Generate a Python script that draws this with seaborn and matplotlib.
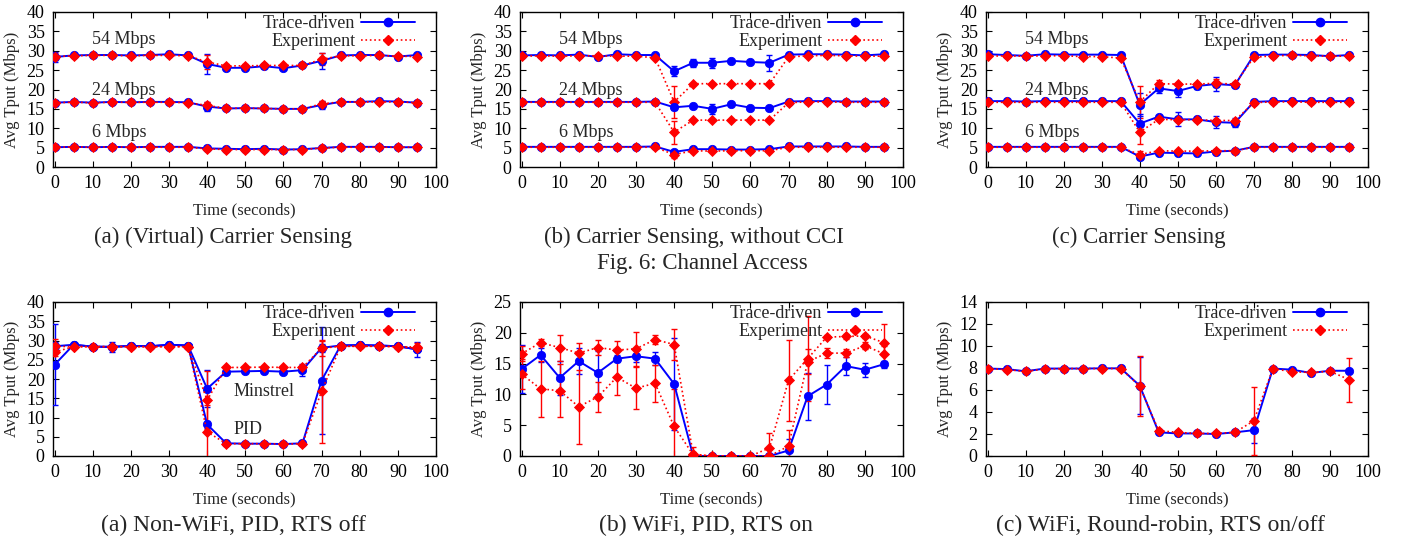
import matplotlib
matplotlib.use("Agg")
import matplotlib.pyplot as plt
from matplotlib.lines import Line2D
import seaborn as sns

t = [0, 5, 10, 15, 20, 25, 30, 35, 40, 45, 50, 55, 60, 65, 70, 75, 80, 85, 90, 95]

# Fig. 6(a) (Virtual) Carrier Sensing
vcs_trace_54 = [28.4, 28.8, 28.9, 28.9, 28.8, 28.9, 29.1, 28.8, 26.6, 25.6, 25.6, 26.0, 25.5, 26.2, 27.4, 28.8, 28.9, 28.9, 28.5, 28.9]
vcs_trace_54_err = [1.3, 0, 0, 0, 0, 0, 0, 0, 2.5, 0.5, 0, 0.4, 0, 0, 2.0, 0, 0, 0, 0, 0]
vcs_exp_54 = [28.5, 28.7, 28.8, 28.8, 28.7, 28.8, 28.8, 28.7, 27.1, 26.1, 26.1, 26.2, 26.2, 26.2, 27.8, 28.7, 28.7, 28.8, 28.6, 28.5]
vcs_exp_54_err = [0.8, 0, 0, 0, 0, 0, 0, 0, 1.8, 0.5, 0.4, 0.4, 0.4, 0, 1.5, 0, 0, 0, 0, 0]
vcs_trace_24 = [16.6, 16.8, 16.6, 16.8, 16.7, 16.8, 16.8, 16.7, 15.6, 15.1, 15.2, 15.1, 15.0, 15.0, 16.0, 16.8, 16.8, 17.0, 16.9, 16.6]
vcs_trace_24_err = [0.8, 0, 0, 0, 0, 0, 0, 0, 1.2, 0, 0, 0, 0, 0, 1.0, 0, 0, 0, 0, 0]
vcs_exp_24 = [16.6, 16.7, 16.6, 16.7, 16.7, 16.7, 16.7, 16.6, 15.9, 15.1, 15.2, 15.1, 15.0, 15.0, 16.3, 16.8, 16.8, 16.8, 16.8, 16.6]
vcs_exp_24_err = [0.5, 0, 0, 0, 0, 0, 0, 0, 0.9, 0, 0, 0, 0, 0, 0.8, 0, 0, 0, 0, 0]
vcs_trace_6 = [5.1, 5.2, 5.1, 5.2, 5.1, 5.2, 5.2, 5.2, 4.8, 4.7, 4.6, 4.7, 4.5, 4.6, 4.9, 5.2, 5.2, 5.2, 5.1, 5.1]
vcs_exp_6 = [5.1, 5.2, 5.1, 5.2, 5.1, 5.1, 5.1, 5.1, 4.7, 4.5, 4.5, 4.5, 4.5, 4.5, 4.9, 5.1, 5.1, 5.1, 5.1, 5.1]
zero_err = [0] * 20

# Fig. 6(b) Carrier Sensing, without CCI
nocci_trace_54 = [28.8, 28.9, 28.8, 29.0, 28.4, 29.1, 28.9, 28.9, 24.7, 26.9, 26.9, 27.4, 27.1, 26.9, 29.0, 29.1, 29.1, 29.0, 28.8, 29.1]
nocci_trace_54_err = [0, 0, 0, 0, 0, 0, 0, 0, 1.3, 1.0, 1.3, 0, 0, 2.0, 0, 0, 0, 0, 0, 0]
nocci_exp_54 = [28.6, 28.7, 28.6, 28.7, 28.7, 28.6, 28.6, 28.2, 16.8, 21.5, 21.5, 21.5, 21.5, 21.5, 28.4, 28.7, 28.8, 28.7, 28.6, 28.6]
nocci_exp_54_err = [0, 0, 0, 0, 0, 0, 0, 0, 4.2, 0, 0, 0, 0, 0, 0, 0, 0, 0, 0, 0]
nocci_trace_24 = [16.8, 16.8, 16.8, 16.8, 16.8, 16.8, 16.8, 16.9, 15.4, 15.8, 15.0, 16.2, 15.3, 15.2, 16.9, 17.0, 17.0, 16.9, 16.9, 16.9]
nocci_trace_24_err = [0, 0, 0, 0, 0, 0, 0, 0, 0.6, 0, 1.2, 0, 0, 0, 0, 0, 0, 0, 0, 0]
nocci_exp_24 = [16.7, 16.7, 16.7, 16.7, 16.7, 16.7, 16.7, 16.7, 9.0, 12.1, 12.1, 12.1, 12.1, 12.1, 16.6, 16.8, 16.8, 16.7, 16.7, 16.7]
nocci_exp_24_err = [0, 0, 0, 0, 0, 0, 0, 0, 3.0, 0, 0, 0, 0, 0, 0, 0, 0, 0, 0, 0]
nocci_trace_6 = [5.2, 5.2, 5.2, 5.2, 5.2, 5.2, 5.2, 5.3, 3.9, 4.6, 4.6, 4.5, 4.5, 4.6, 5.3, 5.3, 5.3, 5.3, 5.2, 5.2]
nocci_exp_6 = [5.1, 5.1, 5.1, 5.1, 5.1, 5.1, 5.1, 5.1, 3.2, 4.2, 4.1, 4.2, 4.2, 4.2, 5.1, 5.1, 5.1, 5.1, 5.1, 5.1]
nocci_exp_6_err = [0, 0, 0, 0, 0, 0, 0, 0, 0.8, 0, 0, 0, 0, 0, 0, 0, 0, 0, 0, 0]

# Fig. 6(c) Carrier Sensing
cs_trace_54 = [29.1, 28.9, 28.7, 29.1, 29.0, 29.0, 29.0, 28.9, 16.1, 20.3, 19.6, 20.9, 21.4, 21.1, 28.9, 29.0, 29.0, 28.9, 28.6, 28.9]
cs_trace_54_err = [0, 0, 0, 0, 0, 0, 0, 0, 3.0, 1.3, 1.5, 0.8, 1.8, 0, 0, 0, 0, 0, 0, 0]
cs_exp_54 = [28.6, 28.7, 28.6, 28.7, 28.7, 28.5, 28.5, 28.1, 16.8, 21.5, 21.4, 21.4, 21.6, 21.4, 28.3, 28.7, 28.8, 28.7, 28.6, 28.6]
cs_exp_54_err = [0, 0, 0, 0, 0, 0, 0, 0, 4.2, 1.0, 0, 0, 1.0, 0, 0, 0, 0, 0, 0, 0]
cs_trace_24 = [17.0, 17.0, 16.9, 17.0, 17.0, 17.0, 17.0, 17.0, 11.2, 13.0, 12.3, 12.3, 11.6, 11.4, 16.8, 17.0, 17.0, 17.0, 17.0, 17.0]
cs_trace_24_err = [0, 0, 0, 0, 0, 0, 0, 0, 2.5, 0.5, 1.8, 0, 1.5, 1.2, 0, 0, 0, 0, 0, 0]
cs_exp_24 = [16.7, 16.7, 16.7, 16.7, 16.7, 16.7, 16.7, 16.7, 9.0, 12.3, 12.2, 12.2, 12.0, 12.0, 16.6, 16.8, 16.8, 16.7, 16.7, 16.7]
cs_exp_24_err = [0, 0, 0, 0, 0, 0, 0, 0, 3.0, 0, 0, 0, 0, 0, 0, 0, 0, 0, 0, 0]
cs_trace_6 = [5.2, 5.2, 5.2, 5.2, 5.2, 5.2, 5.2, 5.2, 2.7, 3.7, 3.6, 3.5, 4.0, 4.2, 5.2, 5.2, 5.2, 5.2, 5.2, 5.2]
cs_exp_6 = [5.1, 5.1, 5.1, 5.1, 5.1, 5.1, 5.1, 5.1, 3.2, 4.2, 4.1, 4.1, 4.2, 4.2, 5.1, 5.1, 5.1, 5.1, 5.1, 5.1]
cs_exp_6_err = [0, 0, 0, 0, 0, 0, 0, 0, 1.0, 0, 0, 0, 0, 0, 0, 0, 0, 0, 0, 0]

# Fig. 7(a) Non-WiFi, PID, RTS off (Minstrel and PID)
nw_min_trace = [28.5, 28.9, 28.4, 28.3, 28.6, 28.5, 28.9, 28.7, 17.5, 21.9, 22.0, 22.1, 21.9, 22.3, 28.1, 28.7, 28.8, 28.7, 28.5, 27.7]
nw_min_trace_err = [1.0, 0, 0, 1.3, 0, 0, 0, 0, 4.8, 0.5, 0.5, 0.5, 0.7, 1.6, 1.0, 0, 0, 0, 0, 2.0]
nw_min_exp = [28.5, 28.4, 28.4, 28.4, 28.4, 28.4, 28.4, 28.4, 14.5, 23.0, 23.0, 23.1, 23.0, 23.0, 28.0, 28.5, 28.5, 28.5, 28.4, 28.3]
nw_min_exp_err = [1.8, 0, 0, 0, 0, 0, 0, 0, 7.5, 0, 0, 0, 0, 0, 2.0, 0, 0, 0, 0, 1.0]
nw_pid_trace = [23.7, 28.9, 28.4, 28.4, 28.6, 28.5, 28.9, 28.7, 8.2, 3.3, 3.2, 3.2, 3.1, 3.3, 19.6, 28.7, 28.8, 28.7, 28.5, 27.7]
nw_pid_trace_err = [10.5, 0, 0, 0, 0, 0, 0, 0, 1.0, 0, 0, 0, 0, 0, 13.9, 0, 0, 0, 0, 0.8]
nw_pid_exp = [27.0, 28.4, 28.4, 28.4, 28.4, 28.4, 28.4, 28.4, 6.3, 3.2, 3.2, 3.2, 3.1, 3.2, 16.8, 28.5, 28.5, 28.5, 28.4, 28.0]
nw_pid_exp_err = [1.0, 0, 0, 0, 0, 0, 0, 0, 7.0, 0, 0, 0, 0, 0, 13.3, 0, 0, 0, 0, 0.5]

# Fig. 7(b) WiFi, PID, RTS on
wifi_trace = [14.1, 16.4, 12.7, 15.4, 13.5, 15.8, 16.2, 15.8, 11.7, 0, 0, 0, 0, 0, 0.9, 9.7, 11.6, 14.6, 14.0, 14.9]
wifi_trace_err = [3.9, 1.2, 2.8, 2.1, 3.5, 0.6, 1.0, 1.1, 7.5, 0, 0, 0, 0, 0, 1.9, 3.8, 3.1, 1.4, 1.1, 0.6]
wifi_exp_hi = [16.6, 18.4, 17.6, 16.7, 17.6, 17.2, 17.4, 18.9, 18.1, 0.3, 0, 0, 0, 1.3, 12.3, 15.8, 19.3, 19.4, 19.5, 18.4]
wifi_exp_hi_err = [1.2, 0.6, 2.1, 1.6, 1.2, 1.5, 2.8, 0.7, 2.5, 1.2, 0, 0, 0, 2.5, 6.6, 6.9, 0.3, 0.4, 0.3, 3.1]
wifi_exp_lo = [13.3, 10.9, 10.6, 8.0, 9.6, 12.8, 11.0, 11.8, 4.8, 0.2, 0, 0, 0, 0, 1.6, 15.3, 16.7, 16.7, 17.9, 16.6]
wifi_exp_lo_err = [2.4, 4.6, 4.3, 6.0, 2.4, 2.9, 3.4, 3.0, 6.0, 0.5, 0, 0, 0, 0, 2.6, 2.0, 0.8, 0.6, 0.6, 1.3]

# Fig. 7(c) WiFi, Round-robin, RTS on/off
rr_trace = [7.95, 7.9, 7.7, 7.95, 7.95, 7.95, 7.97, 7.97, 6.4, 2.15, 2.05, 2.05, 2.0, 2.15, 2.35, 7.95, 7.85, 7.55, 7.75, 7.75]
rr_trace_err = [0, 0, 0, 0, 0, 0, 0, 0, 2.6, 0, 0, 0, 0, 0, 1.15, 0, 0, 0, 0, 0]
rr_exp = [7.95, 7.85, 7.7, 7.9, 7.95, 7.95, 7.95, 7.95, 6.35, 2.3, 2.15, 2.05, 2.05, 2.15, 3.2, 7.95, 7.65, 7.6, 7.7, 6.95]
rr_exp_err = [0, 0, 0, 0, 0, 0, 0, 0, 2.7, 0, 0, 0, 0, 0, 3.1, 0, 0, 0, 0, 2.0]

rate_labels = ["54 Mbps", "24 Mbps", "6 Mbps"]
rate_label_y = [33.0, 19.8, 9.0]

captions_top = ["(a) (Virtual) Carrier Sensing", "(b) Carrier Sensing, without CCI", "(c) Carrier Sensing"]
captions_bottom = ["(a) Non-WiFi, PID, RTS off", "(b) WiFi, PID, RTS on", "(c) WiFi, Round-robin, RTS on/off"]

BLUE = "#0000ff"
RED = "#ff0000"

sns.set_style("ticks")
plt.rcParams["font.family"] = ["Liberation Serif", "DejaVu Serif"]

W, H = 1404, 539
fig = plt.figure(figsize=(W / 100, H / 100), dpi=100)


def add_axes(left, right, top, bottom):
    return fig.add_axes([left / W, 1 - bottom / H, (right - left) / W, (bottom - top) / H])


def draw(ax, y, err, kind):
    if kind == "trace":
        color, ls, mk, ms, lw = BLUE, "-", "o", 6.0, 1.4
    else:
        color, ls, mk, ms, lw = RED, ":", "D", 5.0, 1.2
    ax.errorbar(t, y, yerr=err, fmt="none", ecolor=color, elinewidth=1.0,
                capsize=2, capthick=1.0, zorder=3)
    sns.lineplot(x=t, y=y, ax=ax, color=color, linestyle=ls, marker=mk,
                 markersize=ms, markeredgecolor=color, markeredgewidth=0.6,
                 linewidth=lw, errorbar=None, legend=False, zorder=4)


def style_axes(ax, ymax, ystep):
    ax.set_xlim(-0.4, 100)
    ax.set_ylim(0, ymax)
    ax.set_xticks(range(0, 101, 10))
    ax.set_yticks(range(0, ymax + 1, ystep))
    ax.tick_params(direction="in", length=4, width=0.8, top=True, right=True,
                   labelsize=13, pad=6, colors="black")
    for s in ax.spines.values():
        s.set_linewidth(1.0)
        s.set_color("black")
    ax.set_xlabel("Time (seconds)", fontsize=12)
    ax.set_ylabel("Avg Tput (Mbps)", fontsize=12)
    hpx = ax.get_position().height * H
    wpx = ax.get_position().width * W
    ax.xaxis.set_label_coords(0.5, -35 / hpx)
    ax.yaxis.set_label_coords(-33 / wpx, 0.5)
    handles = [
        Line2D([], [], color=BLUE, linestyle="-", marker="o", markersize=6.0, linewidth=1.4),
        Line2D([], [], color=RED, linestyle=":", marker="D", markersize=5.0, linewidth=1.2),
    ]
    ax.legend(handles, ["Trace-driven", "Experiment"], loc="upper right",
              bbox_to_anchor=(1 - 21 / wpx, 1 - 3 / hpx), frameon=False,
              markerfirst=False, fontsize=13, handlelength=3.0,
              handletextpad=0.3, labelspacing=0.05, borderaxespad=0, borderpad=0)


xs = [(53, 436), (520, 903), (986, 1368)]

# top row: Fig. 6
top_sets = [
    [(vcs_trace_54, vcs_trace_54_err, vcs_exp_54, vcs_exp_54_err),
     (vcs_trace_24, vcs_trace_24_err, vcs_exp_24, vcs_exp_24_err),
     (vcs_trace_6, zero_err, vcs_exp_6, zero_err)],
    [(nocci_trace_54, nocci_trace_54_err, nocci_exp_54, nocci_exp_54_err),
     (nocci_trace_24, nocci_trace_24_err, nocci_exp_24, nocci_exp_24_err),
     (nocci_trace_6, zero_err, nocci_exp_6, nocci_exp_6_err)],
    [(cs_trace_54, cs_trace_54_err, cs_exp_54, cs_exp_54_err),
     (cs_trace_24, cs_trace_24_err, cs_exp_24, cs_exp_24_err),
     (cs_trace_6, zero_err, cs_exp_6, cs_exp_6_err)],
]
for (l, r), sets in zip(xs, top_sets):
    ax = add_axes(l, r, 12, 167)
    for tr, tre, ex, exe in sets:
        draw(ax, tr, tre, "trace")
        draw(ax, ex, exe, "exp")
    for lab, yy in zip(rate_labels, rate_label_y):
        ax.text(9.8, yy, lab, fontsize=13, ha="left", va="center")
    style_axes(ax, 40, 5)

# bottom row: Fig. 7
ax = add_axes(53, 436, 302, 456)
draw(ax, nw_min_trace, nw_min_trace_err, "trace")
draw(ax, nw_pid_trace, nw_pid_trace_err, "trace")
draw(ax, nw_min_exp, nw_min_exp_err, "exp")
draw(ax, nw_pid_exp, nw_pid_exp_err, "exp")
ax.text(47, 16.8, "Minstrel", fontsize=13, ha="left", va="center")
ax.text(47, 6.9, "PID", fontsize=13, ha="left", va="center")
style_axes(ax, 40, 5)

ax = add_axes(520, 903, 302, 456)
draw(ax, wifi_trace, wifi_trace_err, "trace")
draw(ax, wifi_exp_hi, wifi_exp_hi_err, "exp")
draw(ax, wifi_exp_lo, wifi_exp_lo_err, "exp")
style_axes(ax, 25, 5)

ax = add_axes(986, 1368, 302, 456)
draw(ax, rr_trace, rr_trace_err, "trace")
draw(ax, rr_exp, rr_exp_err, "exp")
style_axes(ax, 14, 2)

for cx, cap in zip([223, 694, 1139], captions_top):
    fig.text(cx / W, 1 - 237 / H, cap, fontsize=16.5, ha="center", va="center")
fig.text(702 / W, 1 - 264 / H, "Fig. 6: Channel Access", fontsize=16.5, ha="center", va="center")
for cx, cap in zip([233, 706, 1160], captions_bottom):
    fig.text(cx / W, 1 - 525 / H, cap, fontsize=17, ha="center", va="center")

fig.savefig("out.png", dpi=100, facecolor="white")
